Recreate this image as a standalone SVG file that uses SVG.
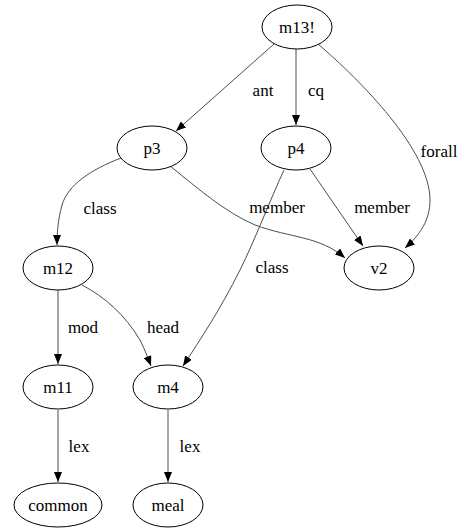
<svg xmlns="http://www.w3.org/2000/svg" width="469" height="529" viewBox="0 0 469 529">
  <style>
    .node ellipse { fill: #ffffff; stroke: #000000; stroke-width: 1; }
    .edge { fill: none; stroke: #4d4d4d; stroke-width: 1; marker-end: url(#arrow); }
    text { font-family: "Times New Roman", Times, "Liberation Serif", Tinos, "DejaVu Serif", "Noto Serif", serif; font-size: 17px; fill: #000000; text-anchor: middle; }
  </style>
  <defs>
    <marker id="arrow" markerWidth="10" markerHeight="8" refX="10" refY="4" orient="auto" markerUnits="userSpaceOnUse">
      <path d="M0,0 L10,4 L0,8 Z" fill="#000000"/>
    </marker>
  </defs>
  <rect width="469" height="529" fill="#ffffff"/>

  <g id="connectors">
    <path class="edge" d="M274,44 L176,131"/>
    <path class="edge" d="M296,49 L296,125"/>
    <path class="edge" d="M318,44 C360,80 430,150 430,200 C430,220 420,235 405,248"/>
    <path class="edge" d="M121,158 C90,170 68,185 62,205 C58,220 57,232 57,245"/>
    <path class="edge" d="M170,166 C200,190 225,212 255,225 C290,238 320,236 345,258"/>
    <path class="edge" d="M310,169 L363,246"/>
    <path class="edge" d="M284,170 C270,200 255,240 240,270 C220,310 200,340 183,366"/>
    <path class="edge" d="M82,285 C105,297 125,315 140,340 C145,350 148,358 151,366"/>
    <path class="edge" d="M58,290 L58,364"/>
    <path class="edge" d="M58,410 L58,482"/>
    <path class="edge" d="M168,410 L168,482"/>
    <text x="263" y="96">ant</text>
    <text x="316" y="96">cq</text>
    <text x="439" y="157">forall</text>
    <text x="100" y="214">class</text>
    <text x="277" y="213">member</text>
    <text x="382" y="213">member</text>
    <text x="272" y="273">class</text>
    <text x="83" y="333">mod</text>
    <text x="163" y="333">head</text>
    <text x="79" y="452">lex</text>
    <text x="190" y="452">lex</text>
  </g>

  <g id="m13" class="node"><ellipse cx="297" cy="27" rx="35" ry="22"/><text x="297" y="33">m13!</text></g>
  <g id="p3" class="node"><ellipse cx="152" cy="148" rx="35" ry="22"/><text x="152" y="154">p3</text></g>
  <g id="p4" class="node"><ellipse cx="296" cy="148" rx="35" ry="22"/><text x="296" y="154">p4</text></g>
  <g id="m12" class="node"><ellipse cx="58" cy="268" rx="35" ry="22"/><text x="58" y="274">m12</text></g>
  <g id="v2" class="node"><ellipse cx="379" cy="268" rx="35" ry="22"/><text x="379" y="274">v2</text></g>
  <g id="m11" class="node"><ellipse cx="58" cy="387" rx="35" ry="22"/><text x="58" y="393">m11</text></g>
  <g id="m4" class="node"><ellipse cx="168" cy="387" rx="35" ry="22"/><text x="168" y="393">m4</text></g>
  <g id="common" class="node"><ellipse cx="58" cy="505" rx="44" ry="22"/><text x="58" y="511">common</text></g>
  <g id="meal" class="node"><ellipse cx="168" cy="505" rx="35" ry="22"/><text x="168" y="511">meal</text></g>
</svg>
